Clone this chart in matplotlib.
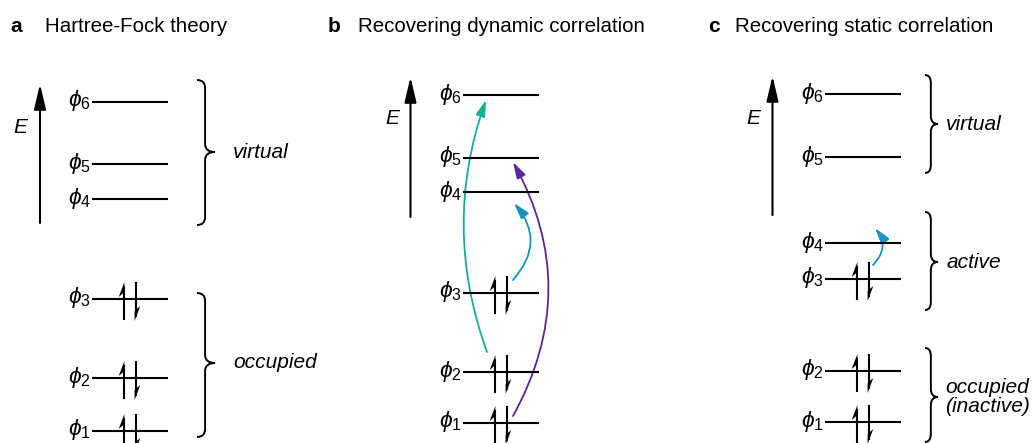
import matplotlib
matplotlib.use('Agg')
import matplotlib.pyplot as plt
from matplotlib.patches import FancyArrowPatch, PathPatch
from matplotlib.path import Path

plt.rcParams['font.family'] = ['Liberation Sans', 'DejaVu Sans']
plt.rcParams['mathtext.fontset'] = 'custom'
plt.rcParams['mathtext.rm'] = 'Liberation Sans'
plt.rcParams['mathtext.it'] = 'Liberation Sans:italic'
plt.rcParams['mathtext.fallback'] = 'stixsans'

# orbital energies (diagram units, bottom = 0) for phi_1 .. phi_6
levels_a = [12, 65, 144, 244, 279, 341.5]
levels_b = [20, 71, 150, 251, 285.5, 348]
levels_c = [21, 72, 164, 200, 286, 349]
electrons = [2, 2, 2, 0, 0, 0]

panel_letters = ['a', 'b', 'c']
panel_titles = ['Hartree-Fock theory', 'Recovering dynamic correlation',
                'Recovering static correlation']

# excitations: (from orbital, to orbital, colour)
excite_b = [(2, 6, '#17b08c'), (1, 5, '#57289a'), (3, 4, '#1592c2')]
excite_c = [(3, 4, '#1592c2')]

# brace groups: (lowest orbital, highest orbital, label)
groups_a = [(4, 6, 'virtual'), (1, 3, 'occupied')]
groups_c = [(5, 6, 'virtual'), (3, 4, 'active'), (1, 2, 'occupied\n(inactive)')]

fig = plt.figure(figsize=(10.32, 4.43), dpi=100)
ax = fig.add_axes([0, 0, 1, 1])
ax.set_xlim(0, 1032)
ax.set_ylim(0, 443)
ax.axis('off')


def draw_levels(x0, levels, width=76):
    for i, (e, n) in enumerate(zip(levels, electrons)):
        ax.plot([x0, x0 + width], [e, e], color='k', lw=1.5, solid_capstyle='butt')
        ax.text(x0 - 1, e + 1, r'$\phi_{%d}$' % (i + 1), fontsize=16.5,
                ha='right', va='center')
        if n == 2:
            xu = x0 + 31.5
            xd = x0 + 43.5
            top = e + 17
            ax.plot([xu, xu], [e - 20, top - 5], color='k', lw=1.5)
            ax.fill([xu + 0.9, xu - 4.8, xu + 0.9], [top, top - 15, top - 10],
                    color='k', lw=0)
            bot = e - 22
            ax.plot([xd, xd], [e + 16, bot + 5], color='k', lw=1.5)
            ax.fill([xd - 0.9, xd + 4.8, xd - 0.9], [bot, bot + 15, bot + 10],
                    color='k', lw=0)


def draw_energy_axis(x, y0, y1, lx, ly):
    ax.annotate('', xy=(x, y1), xytext=(x, y0),
                arrowprops=dict(arrowstyle='-|>,head_length=0.85,head_width=0.2',
                                mutation_scale=18, lw=1.5, color='k',
                                shrinkA=0, shrinkB=0))
    ax.text(lx, ly, 'E', fontsize=15, style='italic', ha='center', va='center')


def draw_brace(x0, y0, y1, ym, w, label, tx):
    xm = x0 + w * 0.45
    r = 8
    verts = [(x0, y1), (xm, y1), (xm, y1 - r),
             (xm, ym + r), (xm, ym), (x0 + w, ym),
             (xm, ym), (xm, ym - r),
             (xm, y0 + r), (xm, y0), (x0, y0)]
    codes = [Path.MOVETO, Path.CURVE3, Path.CURVE3,
             Path.LINETO, Path.CURVE3, Path.CURVE3,
             Path.CURVE3, Path.CURVE3,
             Path.LINETO, Path.CURVE3, Path.CURVE3]
    ax.add_patch(PathPatch(Path(verts, codes), fill=False, lw=1.4, color='k'))
    ax.text(tx, ym, label, fontsize=15, style='italic', ha='left', va='center',
            linespacing=1.05)


def draw_excitation(xa, ya, xb, yb, rad, color):
    arr = FancyArrowPatch((xa, ya), (xb, yb),
                          connectionstyle='arc3,rad=%.3f' % rad,
                          arrowstyle='-|>,head_length=0.75,head_width=0.22',
                          mutation_scale=13, lw=1.3, color=color,
                          shrinkA=0, shrinkB=0)
    ax.add_patch(arr)


# titles
for lx, tx, letter, title in zip([10, 328, 708], [45, 358, 735],
                                 panel_letters, panel_titles):
    ax.text(lx, 417, letter, fontsize=15, fontweight='bold', va='center')
    ax.text(tx, 417, title, fontsize=14.8, va='center')

# panel a
draw_energy_axis(40, 220, 359, 20, 316)
draw_levels(92, levels_a)
for (lo, hi, lab), (y0, y1, ym) in zip(groups_a, [(218, 363, 291), (6, 150, 80)]):
    draw_brace(197, y0, y1, ym, 18, lab, 233)

# panel b
draw_energy_axis(410.5, 226, 366, 392, 325)
draw_levels(463, levels_b)
exc_geom_b = [(487, 20, 486, -5, -0.179), (513, 7, 513, -4.5, 0.276),
              (513, 13, 514, -11, 0.43)]
for (src, dst, col), (xa, da, xb, db, rad) in zip(excite_b, exc_geom_b):
    draw_excitation(xa, levels_b[src - 1] + da, xb, levels_b[dst - 1] + db, rad, col)

# panel c
draw_energy_axis(772.5, 228, 367, 753, 325)
draw_levels(825, levels_c)
for (src, dst, col) in excite_c:
    draw_excitation(873, levels_c[src - 1] + 14, 875, levels_c[dst - 1] + 15, 0.43, col)
brace_geom_c = [(270, 368, 319, 946), (133, 231, 181, 947), (1, 95, 46, 945)]
for (lo, hi, lab), (y0, y1, ym, tx) in zip(groups_c, brace_geom_c):
    draw_brace(925, y0, y1, ym, 13, lab, tx)

fig.savefig('out.png', dpi=100)
